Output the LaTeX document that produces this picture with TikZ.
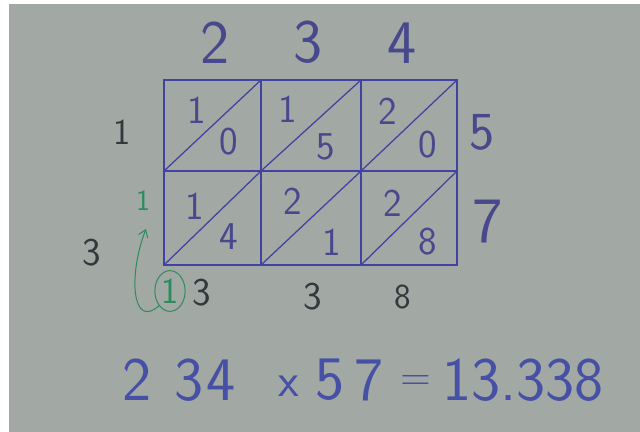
\documentclass[tikz,border=0pt]{standalone}
\usetikzlibrary{arrows.meta, shapes.geometric}
\definecolor{paperGray}{RGB}{162,168,164}
\definecolor{inkBlue}{RGB}{66,66,162}
\definecolor{inkDigit}{RGB}{72,72,140}
\definecolor{inkEq}{RGB}{70,80,165}
\definecolor{inkDark}{RGB}{52,55,60}
\definecolor{inkGreen}{RGB}{42,140,92}

\begin{document}
\begin{tikzpicture}[
  x=0.025cm, y=-0.025cm,
  digit/.style={font=\fontsize{#1}{#1}\selectfont\sffamily, inner sep=0pt, text=inkDigit},
  eqdigit/.style={digit=44, text=inkEq},
  darkdigit/.style={digit=#1, text=inkDark},
  gridline/.style={draw=inkBlue, line width=1.6pt, line cap=round},
  diagline/.style={draw=inkBlue, line width=0.9pt},
  carry/.style={draw=inkGreen, line width=0.7pt},
]
% paper
\fill[white] (0,0) rectangle (640,432);
\fill[paperGray] (9,4) rectangle (640,432);

% lattice corners
\coordinate (TL) at (164,80);
\coordinate (TR) at (457,80);
\coordinate (BL) at (164,265);
\coordinate (BR) at (457,265);

% diagonals
\foreach \xa/\xb in {164/261, 261/361, 361/457} {
  \draw[diagline] (\xa,171) -- (\xb,80);
  \draw[diagline] (\xa,265) -- (\xb,171);
}

% grid
\draw[gridline] (TL) rectangle (BR);
\draw[gridline] (164,171) -- (457,171);
\draw[gridline] (261,80) -- (261,265);
\draw[gridline] (361,80) -- (361,265);

% factors
\node[digit=44] (top1) at (215,43) {2};
\node[digit=44] (top2) at (308,42) {3};
\node[digit=44] (top3) at (402,43) {4};
\node[digit=38] (right1) at (482,132) {5};
\node[digit=46] (right2) at (488,222) {7};

% partial products
\foreach \d/\x/\y [count=\i] in {1/197/110, 0/229/142, 1/288/109, 5/326/147, 2/388/111, 0/428/145,
                                 1/195/206, 4/229/237, 2/293/201, 1/332/242, 2/393/203, 8/428/242}
  \node[digit=28] (cell\i) at (\x,\y) {\d};

% left sums
\node[darkdigit=26] (left1) at (122,132) {1};
\node[darkdigit=28] (left2) at (92,253) {3};
\node[digit=21, text=inkGreen] (carry1) at (143,201) {1};

% bottom sums
\node[digit=26, text=inkGreen, ellipse, draw=inkGreen, line width=0.7pt, inner sep=1.5pt] (circ) at (170,291) {1};
\node[darkdigit=28] (bot1) at (202,293) {3};
\node[darkdigit=28] (bot2) at (313,297) {3};
\node[darkdigit=25] (bot3) at (403,297) {8};

% carry arrow
\coordinate (carryend) at (146,229);
\draw[carry, -{Straight Barb[length=5pt, width=7pt]}] (circ.south west) .. controls (132,330) and (128,275) .. (carryend);

% result line
\foreach \d/\x [count=\i] in {2/137, 3/189, 4/221, 5/330, 7/369}
  \node[eqdigit] (eq\i) at (\x,380) {\d};
\node[digit=34, text=inkEq] (times) at (289,386) {x};
\node[digit=30, text=inkEq] (equals) at (416,383) {=};
\node[eqdigit] (result) at (523,380) {13.338};

\end{tikzpicture}
\end{document}
